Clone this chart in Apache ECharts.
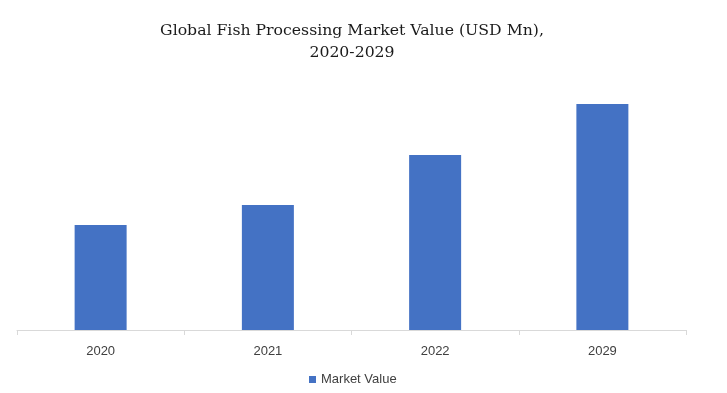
<!DOCTYPE html>
<html><head><meta charset="utf-8">
<script src="https://cdn.jsdelivr.net/npm/echarts@6/dist/echarts.min.js"></script>
<style>html,body{margin:0;padding:0;background:#fff}#c{width:727px;height:393px}</style>
</head><body><div id="c"></div>
<script>
var categories = ['2020', '2021', '2022', '2029'];
var marketValue = [105, 125, 175, 226];
var seriesName = 'Market Value';
var titleText = 'Global Fish Processing Market Value (USD Mn),\n2020-2029';

var chart = echarts.init(document.getElementById('c'));
chart.setOption({
  animation: false,
  backgroundColor: '#fff',
  title: {
    text: titleText, left: 347, textAlign: 'center', top: 15,
    textStyle: {fontFamily: 'DejaVu Serif', fontSize: 15.7, fontWeight: 'normal', color: '#1a1a1a', lineHeight: 22}
  },
  legend: {
    data: [seriesName], bottom: 2, left: 304, icon: 'rect', itemWidth: 7, itemHeight: 7, itemGap: 4,
    textStyle: {fontFamily: 'Liberation Sans', fontSize: 13, color: '#404040'}
  },
  grid: {left: 17, right: 41, top: 80, bottom: 63},
  xAxis: {
    type: 'category', data: categories,
    axisLine: {lineStyle: {color: '#d9d9d9'}},
    axisTick: {show: true, length: 5, lineStyle: {color: '#d9d9d9'}},
    axisLabel: {margin: 15, fontFamily: 'Liberation Sans', fontSize: 13, color: '#404040'}
  },
  yAxis: {type: 'value', min: 0, max: 250, show: false, splitLine: {show: false}},
  series: [{
    name: seriesName, type: 'bar', data: marketValue, barWidth: 52,
    itemStyle: {color: '#4472c4'}
  }]
});
</script></body></html>
